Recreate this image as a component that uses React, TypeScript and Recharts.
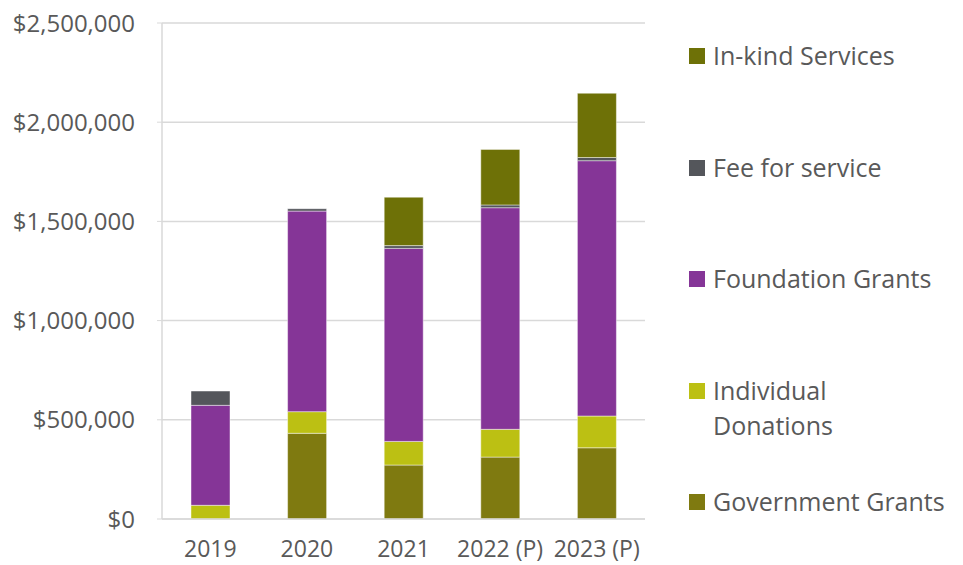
import { BarChart, Bar, XAxis, YAxis, CartesianGrid, Legend } from 'recharts'

const years = ['2019', '2020', '2021', '2022 (P)', '2023 (P)']
const governmentGrants = [0, 432000, 272000, 312000, 359000]
const individualDonations = [69000, 109000, 119000, 140000, 160000]
const foundationGrants = [504000, 1011000, 973000, 1117000, 1287000]
const feeForService = [72000, 12000, 14000, 14000, 16000]
const inKindServices = [0, 0, 244000, 280000, 324000]
const yTicks = [0, 500000, 1000000, 1500000, 2000000, 2500000]

const data = years.map((year, i) => ({
  year,
  government: governmentGrants[i],
  individual: individualDonations[i],
  foundation: foundationGrants[i],
  fee: feeForService[i],
  inkind: inKindServices[i],
}))

const series = [
  { key: 'government', name: 'Government Grants', color: '#7F7A10' },
  { key: 'individual', name: 'Individual Donations', color: '#BCC013' },
  { key: 'foundation', name: 'Foundation Grants', color: '#853597' },
  { key: 'fee', name: 'Fee for service', color: '#54565B' },
  { key: 'inkind', name: 'In-kind Services', color: '#6E7107' },
]

const legendLabels: Record<string, string> = {
  inkind: 'In-kind Services',
  fee: 'Fee for service',
  foundation: 'Foundation Grants',
  individual: 'Individual\nDonations',
  government: 'Government Grants',
}

const textColor = '#595959'
const font = '"Open Sans", sans-serif'

const formatMoney = (v: number) => '$' + v.toLocaleString('en-US')

function LegendBox() {
  const items = [...series].reverse()
  return (
    <div style={{ fontFamily: font, color: textColor, paddingTop: 38, width: 274 }}>
      {items.map((s) => (
        <div key={s.key} style={{ height: 111.5, display: 'flex', alignItems: 'flex-start' }}>
          <span
            style={{
              width: 16,
              height: 16,
              background: s.color,
              marginTop: 10,
              marginRight: 8,
              flexShrink: 0,
            }}
          />
          <span style={{ fontSize: 25, lineHeight: '35px', whiteSpace: 'pre-line' }}>
            {legendLabels[s.key]}
          </span>
        </div>
      ))}
    </div>
  )
}

export default function App() {
  return (
    <div style={{ width: 963, height: 565, background: '#fff', position: 'relative' }}>
      <style>{'body{margin:0}'}</style>
      <BarChart
        width={963}
        height={565}
        data={data}
        margin={{ top: 23, right: 44, bottom: 0, left: 0 }}
        barSize={39}
      >
        <CartesianGrid stroke="#D9D9D9" strokeWidth={1.5} vertical={false} />
        <XAxis
          dataKey="year"
          height={46}
          tickSize={0}
          tickMargin={22}
          interval={0}
          axisLine={{ stroke: '#D9D9D9', strokeWidth: 1.5 }}
          tick={{ fill: textColor, fontSize: 23, fontFamily: font }}
        />
        <YAxis
          width={162}
          domain={[0, 2500000]}
          ticks={yTicks}
          tickFormatter={formatMoney}
          tickSize={5}
          tickMargin={22}
          axisLine={{ stroke: '#D9D9D9', strokeWidth: 1.5 }}
          tickLine={{ stroke: '#D9D9D9' }}
          tick={{ fill: textColor, fontSize: 24, fontFamily: font }}
        />
        <Legend
          layout="vertical"
          align="right"
          verticalAlign="top"
          wrapperStyle={{ top: 0, left: 689, width: 274 }}
          content={() => <LegendBox />}
        />
        {series.map((s) => (
          <Bar
            key={s.key}
            dataKey={s.key}
            name={s.name}
            stackId="a"
            fill={s.color}
            stroke="#ffffff"
            strokeOpacity={0.45}
            strokeWidth={1}
            isAnimationActive={false}
          />
        ))}
      </BarChart>
    </div>
  )
}
